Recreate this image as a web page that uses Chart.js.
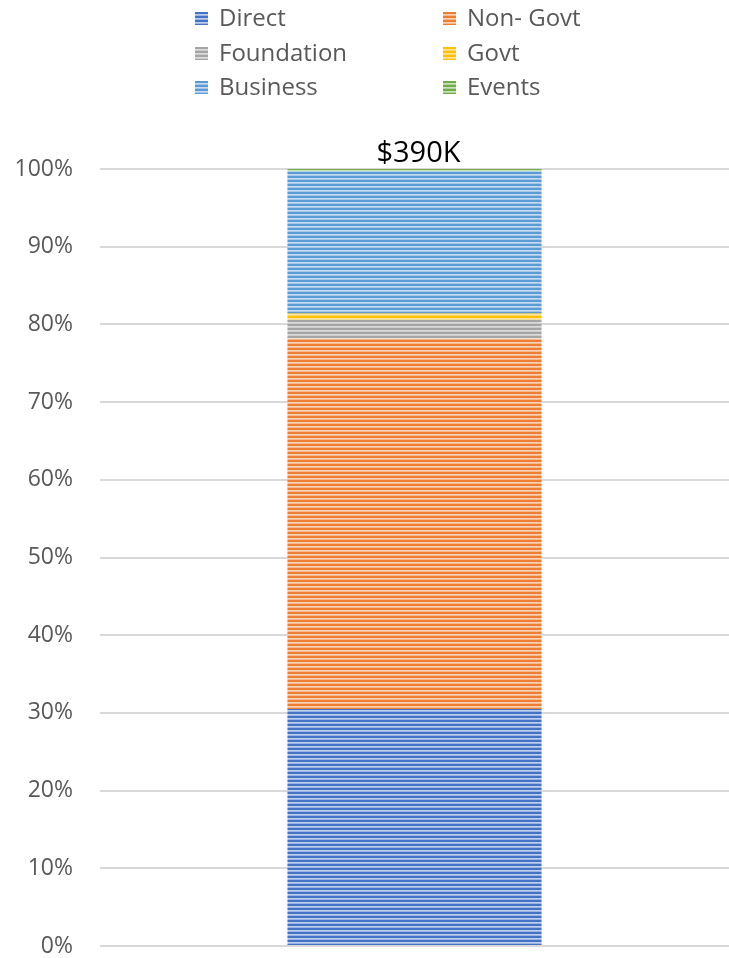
<!DOCTYPE html>
<html>
<head>
<meta charset="utf-8">
<script src="https://cdn.jsdelivr.net/npm/chart.js@4/dist/chart.umd.min.js"></script>
<style>
body{margin:0;background:#fff;font-family:"Open Sans",sans-serif;}
#wrap{position:relative;width:729px;height:958px;}
#legend{position:absolute;left:195px;top:0px;width:420px;}
.item{position:absolute;font-size:24px;color:#595959;white-space:nowrap;line-height:34px;}
.box{display:inline-block;width:13px;height:13px;margin-right:11px;vertical-align:1px;}
</style>
</head>
<body>
<div id="wrap">
<div id="legend"></div>
<canvas id="chart" width="729" height="958"></canvas>
</div>
<script>
//data
const categories = ['Total'];
const seriesNames = ['Direct','Non- Govt','Foundation','Govt','Business','Events'];
const direct = [30.5];
const nonGovt = [47.7];
const foundation = [2.4];
const govt = [0.8];
const business = [18.3];
const events = [0.3];
const totalLabels = ['$390K'];
const yTicks = [0,10,20,30,40,50,60,70,80,90,100];

const colors = ['#4472C4','#ED7D31','#A5A5A5','#FFC000','#5B9BD5','#70AD47'];
const lights = ['#BFD0EE','#F9D3B8','#DCDCDC','#FFE49A','#C6DBF0','#C9E2BA'];
const values = [direct, nonGovt, foundation, govt, business, events];

//striped fill like the excel pattern
function stripes(hex, light){
	const c = document.createElement('canvas');
	c.width = 8;
	c.height = 4;
	const g = c.getContext('2d');
	g.fillStyle = hex;
	g.fillRect(0,0,8,4);
	g.fillStyle = light;
	g.fillRect(0,2,8,1);
	g.globalAlpha = 0.7;
	g.fillRect(0,3,8,1);
	return c;
}

let datasets = [];
for(i=0 ; i<seriesNames.length ; i++){
	const tile = stripes(colors[i], lights[i]);
	datasets.push({
		label: seriesNames[i],
		data: values[i],
		backgroundColor: tile.getContext('2d').createPattern(tile,'repeat'),
		borderWidth: 0,
		categoryPercentage: 1,
		barPercentage: 0.404
	});
}

//legend in two columns
const legendDiv = document.getElementById('legend');
for(i=0 ; i<seriesNames.length ; i++){
	const item = document.createElement('div');
	item.className = 'item';
	item.style.left = (i % 2 == 0 ? 0 : 248) + 'px';
	item.style.top = (Math.floor(i/2) * 34.5) + 'px';
	const box = document.createElement('span');
	box.className = 'box';
	box.style.backgroundImage = 'url(' + stripes(colors[i], lights[i]).toDataURL() + ')';
	item.appendChild(box);
	item.appendChild(document.createTextNode(seriesNames[i]));
	legendDiv.appendChild(item);
}

//total label on top of the bar
const totalPlugin = {
	id:'totalPlugin',
	afterDatasetsDraw(chart){
		const ctx = chart.ctx;
		const last = chart.getDatasetMeta(datasets.length-1);
		ctx.save();
		ctx.font = '29px "Open Sans"';
		ctx.fillStyle = '#000';
		ctx.textAlign = 'center';
		ctx.textBaseline = 'alphabetic';
		for(i=0 ; i<categories.length ; i++){
			const bar = last.data[i];
			ctx.fillText(totalLabels[i], bar.x + 4, chart.scales.y.getPixelForValue(100) - 7);
		}
		ctx.restore();
	}
};

const ctx1 = document.getElementById('chart');
const stackChart = new Chart(ctx1, {
	type:'bar',
	data:{
		labels: categories,
		datasets: datasets
	},
	options:{
		responsive:false,
		animation:false,
		layout:{
			padding:{top:169,bottom:12,left:0,right:0}
		},
		plugins:{
			legend:{display:false},
			tooltip:{enabled:false}
		},
		scales:{
			x:{
				stacked:true,
				display:false
			},
			y:{
				stacked:true,
				min:0,
				max:100,
				afterFit(scale){
					scale.width = 100;
					scale.paddingTop = 0;
					scale.paddingBottom = 0;
				},
				afterBuildTicks(scale){ scale.ticks = yTicks.map(v => ({value:v})); },
				border:{display:false},
				grid:{color:'#D9D9D9', lineWidth:2, drawTicks:false},
				ticks:{
					padding:27,
					color:'#595959',
					font:{family:'Open Sans', size:23},
					callback: v => v + '%'
				}
			}
		}
	},
	plugins:[totalPlugin]
});
</script>
</body>
</html>
